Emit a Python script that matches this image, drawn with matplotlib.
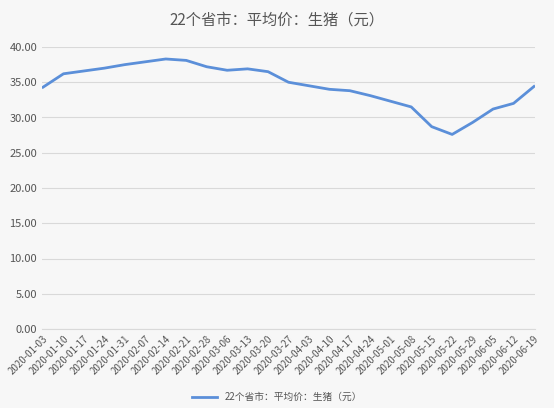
import matplotlib.pyplot as plt

plt.rcParams['font.family'] = ['Noto Sans CJK SC', 'DejaVu Sans']

dates = ["2020-01-03", "2020-01-10", "2020-01-17", "2020-01-24", "2020-01-31",
         "2020-02-07", "2020-02-14", "2020-02-21", "2020-02-28", "2020-03-06",
         "2020-03-13", "2020-03-20", "2020-03-27", "2020-04-03", "2020-04-10",
         "2020-04-17", "2020-04-24", "2020-05-01", "2020-05-08", "2020-05-15",
         "2020-05-22", "2020-05-29", "2020-06-05", "2020-06-12", "2020-06-19"]
price = [34.3, 36.2, 36.6, 37.0, 37.5, 37.9, 38.3, 38.1, 37.2, 36.7,
         36.9, 36.5, 35.0, 34.5, 34.0, 33.8, 33.1, 32.3, 31.5, 28.7,
         27.6, 29.3, 31.2, 32.0, 34.4]
series_name = "22个省市：平均价：生猪（元）"

fig = plt.figure(figsize=(5.54, 4.08), dpi=100, facecolor='#f7f7f7')
ax = fig.add_axes([42 / 554, 1 - 329 / 408, 493 / 554, 282 / 408])
ax.set_facecolor('#f7f7f7')

x = range(len(dates))
ax.plot(x, price, color='#5b8fd9', linewidth=2, label=series_name)

ax.set_ylim(0, 40)
ax.set_yticks(range(0, 41, 5))
ax.set_yticklabels([f"{v:.2f}" for v in range(0, 41, 5)], fontsize=8, color='#555555')
ax.set_xlim(-0.05, len(dates) - 0.95)
ax.set_xticks(list(x))
ax.set_xticklabels(dates, rotation=45, ha='right', rotation_mode='anchor',
                   fontsize=7, color='#555555')
ax.grid(axis='y', color='#d9d9d9', linewidth=0.8)
ax.tick_params(length=0)
for s in ['top', 'right', 'left']:
    ax.spines[s].set_visible(False)
ax.spines['bottom'].set_color('#d9d9d9')

fig.text(0.5, 1 - 20 / 408, series_name, ha='center', va='center',
         fontsize=11, color='#555555')
fig.legend(loc='center', bbox_to_anchor=(0.5, 1 - 397 / 408), frameon=False,
           fontsize=7, labelcolor='#555555', handlelength=2.5)

fig.savefig('out.png', facecolor=fig.get_facecolor())
